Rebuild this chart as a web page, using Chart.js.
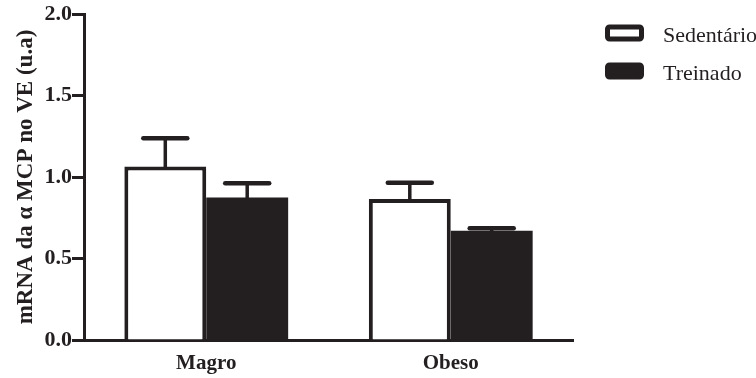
<!DOCTYPE html>
<html>
<head>
<meta charset="utf-8">
<script src="https://cdn.jsdelivr.net/npm/chart.js@4/dist/chart.umd.min.js"></script>
<style>
  html, body { margin: 0; padding: 0; background: #fff; }
  #wrap { width: 756px; height: 378px; position: relative; }
</style>
</head>
<body>
<div id="wrap"><canvas id="mcpChart"></canvas></div>
<script>
const categories = ['Magro', 'Obeso'];
const seriesNames = ['Sedentário', 'Treinado'];
const sedentario = [1.065, 0.865];
const treinado = [0.875, 0.67];
const sedentarioErr = [0.172, 0.10];
const treinadoErr = [0.086, 0.016];
const yTicks = [0.0, 0.5, 1.0, 1.5, 2.0];

const INK = '#231f20';

// upward error bars (mean + SEM)
const errorBars = {
  id: 'errorBars',
  afterDatasetsDraw(chart) {
    const ctx = chart.ctx;
    const yScale = chart.scales.y;
    chart.data.datasets.forEach((ds, i) => {
      const meta = chart.getDatasetMeta(i);
      meta.data.forEach((bar, j) => {
        const top = yScale.getPixelForValue(ds.data[j] + ds.errors[j]);
        ctx.save();
        ctx.strokeStyle = INK;
        ctx.lineCap = 'round';
        ctx.lineWidth = 3.5;
        ctx.beginPath();
        ctx.moveTo(bar.x, bar.y);
        ctx.lineTo(bar.x, top);
        ctx.stroke();
        ctx.lineWidth = 4.5;
        ctx.beginPath();
        ctx.moveTo(bar.x - 22, top);
        ctx.lineTo(bar.x + 22, top);
        ctx.stroke();
        ctx.restore();
      });
    });
  }
};

// legend at the top right, drawn by hand
const sideLegend = {
  id: 'sideLegend',
  afterDraw(chart) {
    const ctx = chart.ctx;
    const rows = [33, 71];
    chart.data.datasets.forEach((ds, i) => {
      const cy = rows[i];
      ctx.save();
      ctx.fillStyle = ds.backgroundColor;
      ctx.strokeStyle = INK;
      ctx.lineWidth = 5;
      ctx.beginPath();
      ctx.roundRect(607.5, cy - 6, 34, 12, 2);
      ctx.fill();
      ctx.stroke();
      ctx.fillStyle = INK;
      ctx.font = '22px "Liberation Serif"';
      ctx.textBaseline = 'alphabetic';
      ctx.fillText(ds.label, 663, cy + 9);
      ctx.restore();
    });
  }
};

new Chart(document.getElementById('mcpChart'), {
  type: 'bar',
  data: {
    labels: categories,
    datasets: [
      {
        label: seriesNames[0],
        data: sedentario,
        errors: sedentarioErr,
        backgroundColor: '#ffffff',
        borderColor: INK,
        borderWidth: 4,
        borderSkipped: 'bottom'
      },
      {
        label: seriesNames[1],
        data: treinado,
        errors: treinadoErr,
        backgroundColor: INK,
        borderColor: INK,
        borderWidth: 0
      }
    ]
  },
  options: {
    responsive: true,
    maintainAspectRatio: false,
    animation: false,
    devicePixelRatio: 1,
    layout: { padding: { top: 14, right: 183, left: 0, bottom: 0 } },
    plugins: {
      legend: { display: false },
      tooltip: { enabled: false }
    },
    datasets: {
      bar: { categoryPercentage: 0.67, barPercentage: 1.0 }
    },
    scales: {
      x: {
        grid: { display: false, drawTicks: false },
        border: { color: INK, width: 3 },
        ticks: {
          color: INK,
          padding: 11,
          font: { family: '"Liberation Serif"', size: 21, weight: 'bold' }
        },
        afterFit(scale) { scale.height = 38; }
      },
      y: {
        min: 0,
        max: 2,
        afterBuildTicks(scale) { scale.ticks = yTicks.map(v => ({ value: v })); },
        grid: {
          drawOnChartArea: false,
          drawTicks: true,
          tickLength: 12,
          tickWidth: 3,
          tickColor: INK
        },
        border: { color: INK, width: 3 },
        ticks: {
          color: INK,
          padding: 0,
          font: { family: '"Liberation Serif"', size: 22, weight: 'bold' },
          callback: v => v.toFixed(1)
        },
        title: {
          display: true,
          text: 'mRNA da α MCP no VE (u.a)',
          color: INK,
          padding: { top: 12, bottom: 0 },
          font: { family: '"Liberation Serif"', size: 23, weight: 'bold' }
        },
        afterFit(scale) { scale.width = 84; }
      }
    }
  },
  plugins: [errorBars, sideLegend]
});
</script>
</body>
</html>
